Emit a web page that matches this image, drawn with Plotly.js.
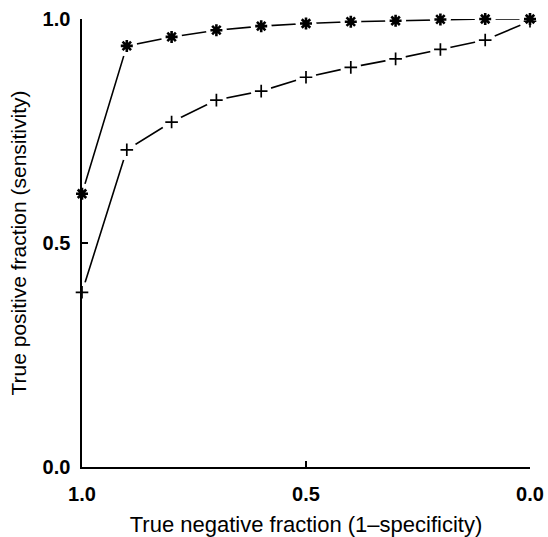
<!DOCTYPE html>
<html>
<head>
<meta charset="utf-8">
<script src="https://cdn.plot.ly/plotly-3.0.1.min.js"></script>
<style>html,body{margin:0;padding:0;background:#fff;}#chart{width:548px;height:537px;}</style>
</head>
<body>
<div id="chart"></div>
<script>
// True negative fraction (x, axis reversed 1.0 -> 0.0)
const tnf = [1.0, 0.9, 0.8, 0.7, 0.6, 0.5, 0.4, 0.3, 0.2, 0.1, 0.0];
// Series marked with asterisks
const starSens = [0.61, 0.94, 0.96, 0.975, 0.984, 0.99, 0.994, 0.996, 0.999, 1.0, 1.0];
// Series marked with plus signs
const plusSens = [0.39, 0.708, 0.77, 0.819, 0.839, 0.87, 0.892, 0.911, 0.932, 0.953, 0.995];
// Tick labels
const xTickVals = [1.0, 0.5, 0.0];
const xTickText = ['1.0', '0.5', '0.0'];
const yTickVals = [0.0, 0.5, 1.0];
const yTickText = ['0.0', '0.5', '1.0'];

const lineStyle = {color: '#000', width: 1.6};
const traces = [
  {x: tnf, y: starSens, mode: 'lines', line: lineStyle, cliponaxis: false, hoverinfo: 'skip'},
  {x: tnf, y: plusSens, mode: 'lines', line: lineStyle, cliponaxis: false, hoverinfo: 'skip'},
  // white halos above both lines create the gaps next to the symbols
  {x: tnf.concat(tnf), y: starSens.concat(plusSens), mode: 'markers', cliponaxis: false,
   marker: {symbol: 'circle', size: 21, color: '#fff', line: {width: 0}}, hoverinfo: 'skip'},
  {x: tnf, y: starSens, mode: 'markers', cliponaxis: false,
   marker: {symbol: 'asterisk-open', size: 10, color: '#000', line: {color: '#000', width: 2.6}}},
  {x: tnf, y: starSens, mode: 'markers', cliponaxis: false,
   marker: {symbol: 'circle', size: 5, color: '#000', line: {width: 0}}, hoverinfo: 'skip'},
  {x: tnf, y: plusSens, mode: 'markers', cliponaxis: false,
   marker: {symbol: 'cross-thin-open', size: 9, color: '#000', line: {color: '#000', width: 1.7}}}
];

const tickFont = {family: 'Liberation Sans Narrow, Arial Narrow, Liberation Sans, Arial, sans-serif', size: 20, color: '#000', weight: 'bold'};
const xTitleFont = {family: 'Liberation Sans, Arial, Helvetica, sans-serif', size: 22, color: '#000'};
const yTitleFont = {family: 'Liberation Sans, Arial, Helvetica, sans-serif', size: 21, color: '#000'};

const layout = {
  width: 548, height: 537,
  margin: {l: 82, r: 18, t: 19, b: 70, pad: 0},
  paper_bgcolor: '#fff', plot_bgcolor: '#fff',
  showlegend: false,
  xaxis: {
    range: [1.0, 0.0], tickvals: xTickVals, ticktext: xTickText,
    showline: true, linecolor: '#000', linewidth: 1.6, mirror: false,
    ticks: 'inside', ticklen: 6, tickwidth: 1.6, tickcolor: '#000',
    showgrid: false, zeroline: false, tickfont: tickFont, ticklabelstandoff: 8,
    title: {text: 'True negative fraction (1\u2013specificity)', font: xTitleFont, standoff: 28},
    automargin: false, fixedrange: true, layer: 'above traces'
  },
  yaxis: {
    range: [0.0, 1.0], tickvals: yTickVals, ticktext: yTickText,
    showline: true, linecolor: '#000', linewidth: 1.6, mirror: false,
    ticks: 'inside', ticklen: 6, tickwidth: 1.6, tickcolor: '#000',
    showgrid: false, zeroline: false, tickfont: tickFont, ticklabelstandoff: 6,
    title: {text: 'True positive fraction (sensitivity)', font: yTitleFont, standoff: 10},
    automargin: false, fixedrange: true, layer: 'above traces'
  }
};

Plotly.newPlot('chart', traces, layout, {displayModeBar: false, staticPlot: true});
</script>
</body>
</html>
